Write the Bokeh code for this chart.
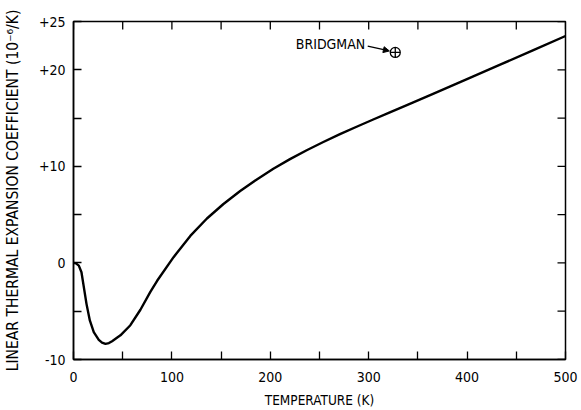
import math
from bokeh.plotting import figure
from bokeh.models import LinearAxis, FixedTicker, Range1d, Arrow, NormalHead, ColumnDataSource
from bokeh.core.properties import value
from bokeh.embed import file_html
from bokeh.resources import INLINE

# ---- data ----
temperature_K = [0, 2.5, 5.4, 8.1, 10.5, 13.2, 16.6, 20.6, 25.7, 29, 32.5, 36, 39.2,
                 47.7, 57.8, 68, 78.1, 85, 101.7, 118.7, 135.6, 152.4, 169.4, 186.3,
                 203.1, 220, 237, 253.9, 270.8, 287.7, 304.6, 321.5, 340, 365.4, 399.3,
                 433, 466.8, 500]
alpha_1e6_per_K = [0, -0.05, -0.28, -0.96, -2.5, -4.24, -5.96, -7.17, -7.96, -8.25, -8.38,
                   -8.3, -8.1, -7.5, -6.45, -4.85, -3.0, -1.85, 0.6, 2.8, 4.6, 6.1,
                   7.45, 8.65, 9.75, 10.75, 11.67, 12.52, 13.33, 14.1, 14.85, 15.6, 16.4,
                   17.5, 19.0, 20.5, 22.0, 23.5]
bridgman_T = [327]
bridgman_alpha = [21.8]
bridgman_label = ["BRIDGMAN"]

x_ticks = [0, 50, 100, 150, 200, 250, 300, 350, 400, 450, 500]
x_labels = {0: "0", 50: "", 100: "100", 150: "", 200: "200", 250: "", 300: "300",
            350: "", 400: "400", 450: "", 500: "500"}
y_ticks = [-10, -5, 0, 5, 10, 15, 20, 25]
y_labels = {-10: "-10", -5: "", 0: "0", 5: "", 10: "+10", 15: "", 20: "+20", 25: "+25"}

FONT = "DejaVu Sans Condensed, Liberation Sans Narrow, DejaVu Sans, sans-serif"

p = figure(width=581, height=410, output_backend="svg", toolbar_location=None,
           x_range=Range1d(x_ticks[0], x_ticks[-1]), y_range=Range1d(y_ticks[0], y_ticks[-1]),
           x_axis_location=None, y_axis_location=None,
           min_border_left=73, min_border_right=16, min_border_top=21, min_border_bottom=50)
p.grid.visible = False
p.outline_line_color = "black"
p.outline_line_width = 1.5
p.background_fill_color = "white"
p.border_fill_color = "white"

def style_axis(ax, ticks, labels):
    ax.ticker = FixedTicker(ticks=ticks)
    ax.major_label_overrides = dict(labels)
    ax.major_tick_in = 8
    ax.major_tick_out = 0
    ax.minor_tick_in = 0
    ax.minor_tick_out = 0
    ax.axis_line_color = "black"
    ax.axis_line_width = 1.5
    ax.major_tick_line_color = "black"
    ax.major_tick_line_width = 1.3
    ax.major_label_text_font = FONT
    ax.major_label_text_color = "black"
    ax.major_label_text_font_size = "14px"
    ax.axis_label_text_font = FONT
    ax.axis_label_text_font_style = "normal"
    ax.axis_label_text_color = "black"

xb = LinearAxis(axis_label="TEMPERATURE (K)")
style_axis(xb, x_ticks, x_labels)
xb.major_label_standoff = 12
xb.axis_label_standoff = 7
xb.axis_label_text_font_size = "13.5px"
p.add_layout(xb, "below")

yl = LinearAxis(axis_label="LINEAR THERMAL EXPANSION COEFFICIENT (10\u207b\u2076/K)")
style_axis(yl, y_ticks, y_labels)
yl.major_label_standoff = 8
yl.axis_label_standoff = 14
yl.axis_label_text_font_size = "15.5px"
p.add_layout(yl, "left")

# inward tick marks on the top and right frame edges (no labels there)
p.ray(x=x_ticks, y=[y_ticks[-1]] * len(x_ticks), length=8, length_units="screen",
      angle=-math.pi / 2, line_color="black", line_width=1.3)
p.ray(x=[x_ticks[-1]] * len(y_ticks), y=y_ticks, length=8, length_units="screen",
      angle=math.pi, line_color="black", line_width=1.3)

p.line(temperature_K, alpha_1e6_per_K, line_color="black", line_width=2.4,
       line_join="round", line_cap="round")

src = ColumnDataSource(dict(x=bridgman_T, y=bridgman_alpha, t=bridgman_label))
p.scatter("x", "y", source=src, marker="circle_cross", size=10, fill_color=None,
          line_color="black", line_width=1.3)
p.text("x", "y", text="t", source=src, x_offset=-30, y_offset=-8,
       text_align="right", text_baseline="middle", text_font=value(FONT),
       text_font_size="14px", text_color="black")
bx, by = bridgman_T[0], bridgman_alpha[0]
p.add_layout(Arrow(end=NormalHead(size=6, fill_color="black", line_color="black"),
                   x_start=bx - 28, y_start=by + 0.65, x_end=bx - 6, y_end=by + 0.15,
                   line_color="black", line_width=1.3))

open("out.html", "w").write(file_html(p, INLINE))
